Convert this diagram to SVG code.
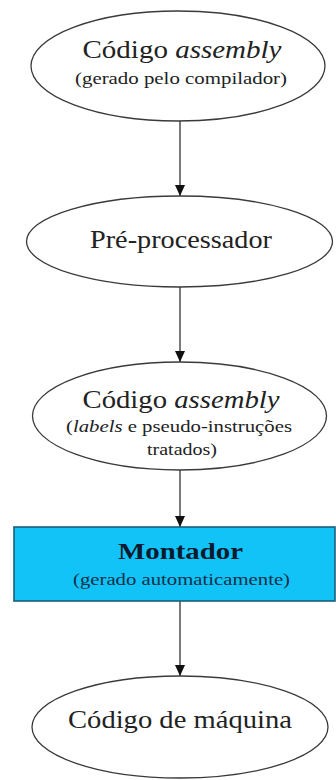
<svg xmlns="http://www.w3.org/2000/svg" width="336" height="780" viewBox="0 0 336 780">
<style>
.el{fill:#ffffff;stroke:#3a3a3a;stroke-width:1.3}
.t{font-family:"Liberation Serif","Times New Roman",serif;fill:#222222;text-anchor:middle}
.big{font-size:25px}
.sm{font-size:17px}
.conn{stroke:#333;stroke-width:1.3;fill:none}
</style>
<defs>
<marker id="ah" markerWidth="12" markerHeight="10" refX="11" refY="5" orient="auto" markerUnits="userSpaceOnUse">
<path d="M0,0 L11,5 L0,10 Z" fill="#111"/>
</marker>
</defs>
<rect width="336" height="780" fill="#ffffff"/>
<g id="connectors">
<line class="conn" x1="180" y1="121" x2="180" y2="196" marker-end="url(#ah)"/>
<line class="conn" x1="180" y1="287" x2="180" y2="362" marker-end="url(#ah)"/>
<line class="conn" x1="180" y1="470" x2="180" y2="527" marker-end="url(#ah)"/>
<line class="conn" x1="180" y1="601" x2="180" y2="676" marker-end="url(#ah)"/>
</g>
<g id="node1">
<ellipse class="el" cx="178" cy="66" rx="147" ry="55"/>
<text class="t big" x="182" y="58" textLength="199" lengthAdjust="spacingAndGlyphs">Código <tspan font-style="italic">assembly</tspan></text>
<text class="t sm" x="181" y="84" textLength="212" lengthAdjust="spacingAndGlyphs">(gerado pelo compilador)</text>
</g>
<g id="node2">
<ellipse class="el" cx="179.5" cy="241.5" rx="153" ry="45.5"/>
<text class="t big" x="181" y="248" textLength="182" lengthAdjust="spacingAndGlyphs">Pré-processador</text>
</g>
<g id="node3">
<ellipse class="el" cx="179.5" cy="416" rx="147" ry="54"/>
<text class="t big" x="181" y="408" textLength="197" lengthAdjust="spacingAndGlyphs">Código <tspan font-style="italic">assembly</tspan></text>
<text class="t sm" x="179" y="432" textLength="226" lengthAdjust="spacingAndGlyphs">(<tspan font-style="italic">labels</tspan> e pseudo-instruções</text>
<text class="t sm" x="182" y="455" textLength="70" lengthAdjust="spacingAndGlyphs">tratados)</text>
</g>
<g id="node4">
<rect x="14" y="527" width="321" height="74" fill="#12c3f7" stroke="#1d5e78" stroke-width="1.6"/>
<text class="t" x="180.5" y="559" font-size="23" font-weight="bold" style="fill:#0b1a2e" textLength="125" lengthAdjust="spacingAndGlyphs">Montador</text>
<text class="t sm" x="181.5" y="585" style="fill:#15304a" textLength="217" lengthAdjust="spacingAndGlyphs">(gerado automaticamente)</text>
</g>
<g id="node5">
<ellipse class="el" cx="180" cy="727" rx="148" ry="51"/>
<text class="t" x="180" y="728" font-size="26" textLength="224" lengthAdjust="spacingAndGlyphs">Código de máquina</text>
</g>
</svg>
